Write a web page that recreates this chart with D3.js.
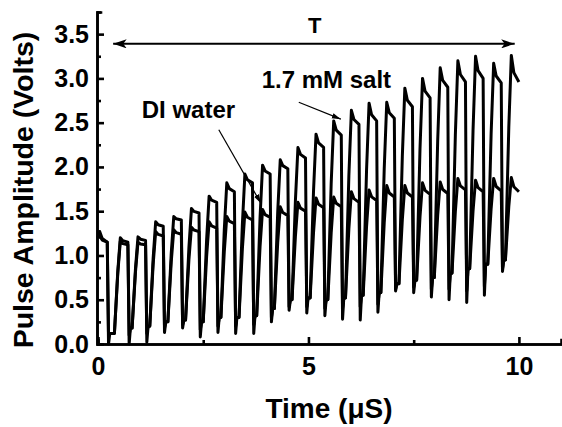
<!DOCTYPE html>
<html>
<head>
<meta charset="utf-8">
<script src="https://cdn.jsdelivr.net/npm/d3@7"></script>
<style>
  body { margin: 0; background: #fff; }
  svg { display: block; font-family: "Liberation Sans", Arial, sans-serif; font-weight: bold; }
  .axis path, .axis line { stroke: #000; stroke-width: 2.6; }
  .axis text { font-size: 25px; font-weight: bold; fill: #000; font-family: "Liberation Sans", Arial, sans-serif; }
</style>
</head>
<body>
<svg id="chart" width="562" height="427"></svg>
<script>
// ---- data (time in µs, amplitude in volts)
const peakTimes = [0.04, 0.53, 0.95, 1.37, 1.80, 2.22, 2.64, 3.06, 3.49, 3.91, 4.33, 4.75,
                   5.18, 5.60, 6.02, 6.44, 6.86, 7.29, 7.71, 8.13, 8.55, 8.97, 9.40, 9.82];
const saltPeaks = [1.27, 1.20, 1.21, 1.38, 1.44, 1.53, 1.67, 1.82, 1.92, 2.02, 2.08, 2.22,
                   2.37, 2.52, 2.64, 2.72, 2.73, 2.89, 3.00, 3.12, 3.20, 3.25, 3.17, 3.26];
const saltEnds  = [1.15, 1.15, 1.17, 1.33, 1.40, 1.48, 1.60, 1.72, 1.82, 1.92, 1.98, 2.10,
                   2.22, 2.36, 2.48, 2.52, 2.55, 2.68, 2.78, 2.90, 2.96, 3.00, 2.95, 2.96];
const diPeaks   = [1.22, 1.16, 1.15, 1.27, 1.29, 1.32, 1.38, 1.44, 1.49, 1.52, 1.55, 1.60,
                   1.65, 1.66, 1.72, 1.74, 1.79, 1.79, 1.82, 1.83, 1.87, 1.85, 1.87, 1.88];
const diEnds    = [1.15, 1.12, 1.12, 1.22, 1.24, 1.27, 1.31, 1.36, 1.40, 1.43, 1.45, 1.50,
                   1.54, 1.55, 1.60, 1.62, 1.66, 1.66, 1.69, 1.70, 1.74, 1.72, 1.73, 1.72];
const saltTroughs = [0.00, 0.00, 0.02, 0.13, 0.18, 0.08, 0.13, 0.12, 0.12, 0.25, 0.38, 0.35,
                     0.32, 0.28, 0.27, 0.36, 0.60, 0.58, 0.53, 0.50, 0.47, 0.55, 0.82];
const diTroughs   = [0.10, 0.10, 0.12, 0.18, 0.22, 0.16, 0.20, 0.20, 0.22, 0.30, 0.42, 0.42,
                     0.40, 0.40, 0.42, 0.45, 0.62, 0.64, 0.62, 0.62, 0.60, 0.65, 0.85];
const lowLevels   = [0.12, 0.18, 0.20, 0.25, 0.27, 0.25, 0.30, 0.30, 0.32, 0.40, 0.50, 0.52,
                     0.50, 0.52, 0.55, 0.58, 0.68, 0.72, 0.75, 0.80, 0.85, 0.90, 0.95];
const startValue = 1.2;
const endTime = 10.0;

const xMajor = [0, 5, 10];
const xMinor = [2.5, 7.5];
const yMajor = [0, 0.5, 1.0, 1.5, 2.0, 2.5, 3.0, 3.5];
const yMinor = [0.25, 0.75, 1.25, 1.75, 2.25, 2.75, 3.25, 3.75];

// ---- layout
const svg = d3.select('#chart');
const plotLeft = 97, plotRight = 561, plotTop = 12, plotBottom = 344;

const mapX = d3.scaleLinear().domain([0, 11]).range([plotLeft + 1, plotRight]);
const mapY = d3.scaleLinear().domain([0, 3.75]).range([plotBottom, plotTop]);

// build one trace from the per-pulse readings
function buildTrace(peaks, ends, troughs) {
    const pts = [[0, startValue]];
    for (let k = 0; k < peakTimes.length; k++) {
        const tp = peakTimes[k];
        if (k > 0) {
            const lo = lowLevels[k - 1];
            pts.push([tp - 0.14, lo]);
            pts.push([tp - 0.06, lo + 0.65 * (peaks[k] - lo)]);
        }
        pts.push([tp, peaks[k]]);
        pts.push([tp + 0.06, ends[k] + 0.35 * (peaks[k] - ends[k])]);
        if (k < peakTimes.length - 1) {
            pts.push([tp + 0.18, ends[k]]);
            pts.push([tp + 0.21, troughs[k]]);
            pts.push([tp + 0.24, lowLevels[k]]);
        } else {
            pts.push([endTime, ends[k]]);
        }
    }
    return pts;
}

const saltTrace = buildTrace(saltPeaks, saltEnds, saltTroughs);
const diTrace = buildTrace(diPeaks, diEnds, diTroughs);

// ---- arrow markers
const defs = svg.append('defs');
defs.append('marker')
    .attr('id', 'bigHead')
    .attr('markerUnits', 'userSpaceOnUse')
    .attr('viewBox', '0 0 12 8')
    .attr('refX', 12).attr('refY', 4)
    .attr('markerWidth', 14).attr('markerHeight', 9)
    .attr('orient', 'auto-start-reverse')
    .append('path').attr('d', 'M0,0 L12,4 L0,8 L3,4 Z').attr('fill', '#000');
defs.append('marker')
    .attr('id', 'smallHead')
    .attr('markerUnits', 'userSpaceOnUse')
    .attr('viewBox', '0 0 10 6')
    .attr('refX', 10).attr('refY', 3)
    .attr('markerWidth', 9).attr('markerHeight', 6)
    .attr('orient', 'auto')
    .append('path').attr('d', 'M0,0 L10,3 L0,6 Z').attr('fill', '#000');

// ---- traces
const line = d3.line()
    .x(d => mapX(d[0]))
    .y(d => mapY(d[1]));

[diTrace, saltTrace].forEach(tr => {
    svg.append('path')
        .datum(tr)
        .attr('fill', 'none')
        .attr('stroke', '#000')
        .attr('stroke-width', 3)
        .attr('stroke-linejoin', 'round')
        .attr('d', line);
});

// ---- axes (ticks point inward)
svg.append('g')
    .attr('class', 'axis')
    .attr('transform', `translate(0, ${plotBottom})`)
    .call(d3.axisBottom(mapX).tickValues(xMinor).tickSize(-4).tickFormat(''));
svg.append('g')
    .attr('class', 'axis')
    .attr('transform', `translate(0, ${plotBottom})`)
    .call(d3.axisBottom(mapX).tickValues(xMajor).tickSize(-7).tickSizeOuter(0).tickPadding(13).tickFormat(d3.format('d')));

svg.append('g')
    .attr('class', 'axis')
    .attr('transform', `translate(${plotLeft}, 0)`)
    .call(d3.axisLeft(mapY).tickValues(yMinor).tickSize(-4).tickFormat(''));
svg.append('g')
    .attr('class', 'axis')
    .attr('transform', `translate(${plotLeft}, 0)`)
    .call(d3.axisLeft(mapY).tickValues(yMajor).tickSize(-7).tickSizeOuter(0).tickPadding(8).tickFormat(d3.format('.1f')));

svg.selectAll('.axis .domain').attr('stroke-linecap', 'square');

// ---- axis titles
svg.append('text')
    .attr('x', (plotLeft + plotRight) / 2)
    .attr('y', 418)
    .attr('text-anchor', 'middle')
    .style('font-size', '28px')
    .text('Time (\u03bcS)');

svg.append('text')
    .attr('transform', 'translate(33, 190) rotate(-90)')
    .attr('text-anchor', 'middle')
    .style('font-size', '28.5px')
    .text('Pulse Amplitude (Volts)');

// ---- annotations
svg.append('line')
    .attr('x1', mapX(0.36)).attr('y1', mapY(3.39))
    .attr('x2', mapX(9.9)).attr('y2', mapY(3.39))
    .attr('stroke', '#000').attr('stroke-width', 2)
    .attr('marker-start', 'url(#bigHead)')
    .attr('marker-end', 'url(#bigHead)');

svg.append('text')
    .attr('x', mapX(5.15)).attr('y', mapY(3.51))
    .attr('text-anchor', 'middle')
    .style('font-size', '22px')
    .text('T');

svg.append('text')
    .attr('x', mapX(3.89)).attr('y', mapY(2.89))
    .style('font-size', '24px')
    .text('1.7 mM salt');

svg.append('line')
    .attr('x1', mapX(4.77)).attr('y1', mapY(2.73))
    .attr('x2', mapX(5.77)).attr('y2', mapY(2.54))
    .attr('stroke', '#000').attr('stroke-width', 1.2)
    .attr('marker-end', 'url(#smallHead)');

svg.append('text')
    .attr('x', mapX(1.04)).attr('y', mapY(2.55))
    .style('font-size', '24px')
    .text('DI water');

svg.append('line')
    .attr('x1', mapX(2.87)).attr('y1', mapY(2.42))
    .attr('x2', mapX(3.87)).attr('y2', mapY(1.59))
    .attr('stroke', '#000').attr('stroke-width', 1.2)
    .attr('marker-end', 'url(#smallHead)');
</script>
</body>
</html>
